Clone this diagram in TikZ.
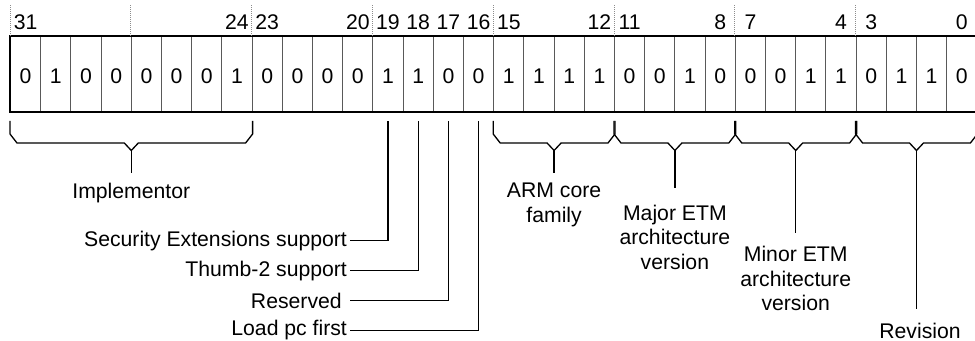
\documentclass[tikz,border=0pt]{standalone}
\usepackage{fontspec}
\setmainfont{Liberation Sans}
\usetikzlibrary{calc,positioning}
\begin{document}
\begin{tikzpicture}[x=0.5pt,y=-0.5pt,
	every node/.style={font=\fontsize{10.6}{12.25}\selectfont},
	bitcell/.style={draw=black!65,line width=0.5pt,minimum width=15.1pt,minimum height=37.5pt,
		inner sep=0pt,anchor=north west,text height=9.9pt,text depth=0pt},
	bitno/.style={inner sep=0pt},
	bitsep/.style={draw=black!45,line width=0.4pt,dash pattern=on 0.4pt off 0.6pt},
	bracket/.style={draw,line width=0.65pt},
	fieldlabel/.style={inner sep=0pt,align=center},
	sidelabel/.style={inner xsep=1.35pt,inner ysep=0pt,anchor=east}]
	\useasboundingbox (0,0) rectangle (975,341);
	% register cells, bit 31 on the left
	\foreach \v [count=\k from 0] in {0,1,0,0,0,0,0,1,0,0,0,0,1,1,0,0,1,1,1,1,0,0,1,0,0,0,1,1,0,1,1,0} {
		\pgfmathtruncatemacro\b{31-\k}
		\node [bitcell] (c\b) at (10+30.2*\k,36) {\v};
	}
	\draw [line width=1pt] (c31.north west) rectangle (c0.south east);
	% bit numbers and dotted separators
	\coordinate (toprow) at (0,22);
	\foreach \b in {31,24,23,20,19,18,17,16,15,12,11,8,7,4,3,0}
		\node [bitno] (n\b) at (c\b.north |- toprow) {\b};
	\foreach \b in {31,27,23,19,15,11,7,3}
		\draw [bitsep] (c\b.north west) -- ++(0,-31);
	% brackets under the fields
	\foreach \hi/\lo/\nm/\len in {31/24/impl/172,15/12/core/172,11/8/major/187,7/4/minor/232,3/0/rev/308} {
		\coordinate (\nm-l) at ([yshift=-4.5pt]c\hi.south west);
		\coordinate (\nm-r) at ([yshift=-4.5pt]c\lo.south east);
		\coordinate (\nm-tip) at ($(\nm-l)!0.5!(\nm-r)+(0,29.5)$);
		\coordinate (\nm-end) at ($(\nm-tip)+(0,\len-149.5)$);
		\draw [bracket] (\nm-l) -- ++(0,13) -- ++(7,9) -- ($(\nm-tip)+(-7,-7.5)$) -- (\nm-tip)
			-- ++(7,-7.5) -- ($(\nm-r)+(-7,22)$) -- ++(7,-9) -- (\nm-r);
		\draw [bracket] (\nm-tip) -- (\nm-end);
	}
	\node [fieldlabel, below=4.85pt of impl-end] (impl) {Implementor};
	\node [fieldlabel, below=4.85pt of core-end] (core) {ARM core\\family};
	\node [fieldlabel, below=8.15pt of major-end] (major) {Major ETM\\architecture\\version};
	\node [fieldlabel, below=6.5pt of minor-end] (minor) {Minor ETM\\architecture\\version};
	\node [fieldlabel, below=6.85pt of rev-end, xshift=1.75pt] (rev) {Revision};
	% single bits
	\node [sidelabel] (sec) at (350,240.7) {Security Extensions support};
	\node [sidelabel] (thumb) at (350,270.7) {Thumb-2 support};
	\node [sidelabel] (resv) at (350,300.7) {Reserved\kern2.6pt};
	\node [sidelabel] (ldpc) at (350,330.3) {Load pc first};
	\draw [bracket] (sec.east) -| ([yshift=-4.5pt]c19.south);
	\draw [bracket] (thumb.east) -| ([yshift=-4.5pt]c18.south);
	\draw [bracket] (resv.east) -| ([yshift=-4.5pt]c17.south);
	\draw [bracket] (ldpc.east) -| ([yshift=-4.5pt]c16.south);
\end{tikzpicture}
\end{document}
